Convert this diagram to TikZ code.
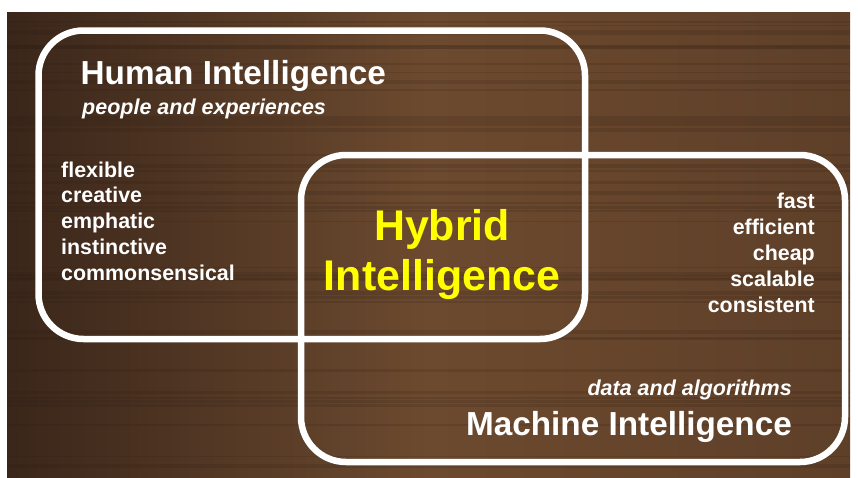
\documentclass[tikz,border=0pt]{standalone}
\usepackage{fontspec}
\setmainfont{Liberation Sans}
\definecolor{wooddark}{RGB}{58,38,26}
\definecolor{woodlight}{RGB}{108,74,47}
\definecolor{woodmid}{RGB}{94,63,40}
\definecolor{woodgrain}{RGB}{40,25,16}
\definecolor{hybridyellow}{RGB}{255,255,0}

\begin{document}
\begin{tikzpicture}[x=1pt,y=-1pt]
  \tikzset{venn box/.style={draw=white,line width=6.5pt,rounded corners=45pt,inner sep=0pt,outer sep=0pt,minimum width=#1},
           title txt/.style={text=white,inner sep=0pt,font=\fontsize{33.3}{38}\selectfont\bfseries},
           sub txt/.style={text=white,inner sep=0pt,font=\fontsize{21.5}{26}\selectfont\bfseries\itshape},
           list txt/.style={text=white,inner sep=0pt,font=\fontsize{21.4}{26}\selectfont\bfseries},
           hybrid txt/.style={text=hybridyellow,inner sep=0pt,font=\fontsize{42.9}{50}\selectfont\bfseries}}

  \useasboundingbox (0,0) rectangle (858,477);
  \fill[white] (0,0) rectangle (858,477);
  \shade[left color=wooddark,right color=woodmid,middle color=woodlight] (7,12) rectangle (850,477);
  \pgfmathsetseed{42}
  \foreach \k in {1,...,45}{
    \pgfmathsetmacro\gy{14+rnd*458}
    \pgfmathsetmacro\gh{1+rnd*3}
    \fill[woodgrain,opacity=0.15] (7,\gy) rectangle (850,\gy+\gh);
  }

  \node [venn box=546.5pt,minimum height=308.5pt] (human) at (311.75,184.75) {};
  \node [venn box=544pt,minimum height=307pt] (machine) at (573,308.5) {};

  \node [title txt,anchor=base west] (humantitle) at (80.5,84) {Human Intelligence};
  \node [sub txt,anchor=base west] (humansub) at (82,114) {people and experiences};
  \foreach \w [count=\i] in {flexible,creative,emphatic,instinctive,commonsensical}
    \node [list txt,anchor=base west] (hum\i) at (61,{177+25.9*(\i-1)}) {\w};

  \foreach \w [count=\i] in {fast,efficient,cheap,scalable,consistent}
    \node [list txt,anchor=base east] (mach\i) at (815,{208+26.2*(\i-1)}) {\w};
  \node [sub txt,anchor=base east] (machinesub) at (792,395) {data and algorithms};
  \node [title txt,anchor=base east] (machinetitle) at (792,435) {Machine Intelligence};

  \node [hybrid txt,anchor=base] (hybrid) at (442,240) {Hybrid};
  \node [hybrid txt,anchor=base] (hybridb) at (442,290) {Intelligence};
\end{tikzpicture}
\end{document}
